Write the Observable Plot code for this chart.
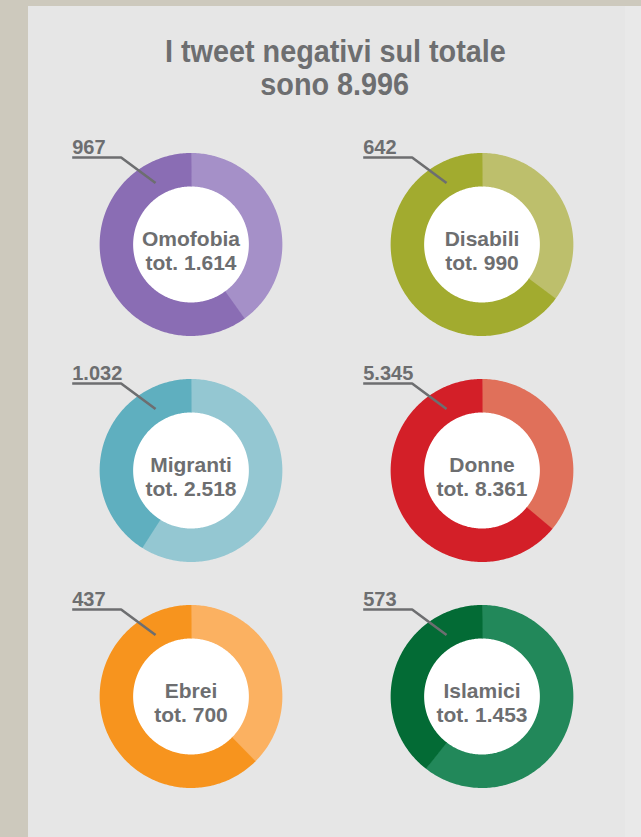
<!DOCTYPE html>
<html><head><meta charset="utf-8">
<script src="https://cdn.jsdelivr.net/npm/d3@7"></script>
<script src="https://cdn.jsdelivr.net/npm/@observablehq/plot@0.6"></script>
<style>
html,body{margin:0;padding:0;}
body{width:641px;height:837px;background:#cdc9bd;position:relative;overflow:hidden;font-family:"Liberation Sans",Arial,sans-serif;}
#panel{position:absolute;left:28px;top:6px;width:613px;height:831px;background:#e6e6e6;}
#strip{position:absolute;left:625px;top:6px;width:16px;height:831px;background:#e9e9e9;}
#title{position:absolute;left:135px;width:400px;top:35px;text-align:center;color:#6d6e70;font-weight:bold;font-size:32px;line-height:33px;}
#title span{display:inline-block;transform:scaleX(0.9);white-space:nowrap;}
#chart{position:absolute;left:0;top:110px;}
</style></head>
<body>
<div id="panel"></div>
<div id="strip"></div>
<div id="title"><span id="t1"></span><br><span id="t2"></span></div>
<div id="chart"></div>
<script>
// ---- data ----
const categories = ["Omofobia", "Disabili", "Migranti", "Donne", "Ebrei", "Islamici"];
const negativi   = [967, 642, 1032, 5345, 437, 573];
const totali     = [1614, 990, 2518, 8361, 700, 1453];
const titleLine1 = "I tweet negativi sul totale";
const titleLine2 = "sono";

// ---- styles ----
const darkColors  = ["#8a6db4", "#a2ab2f", "#5fafbf", "#d31f28", "#f7941e", "#036b35"];
const lightColors = ["#a590c8", "#bdbf6c", "#94c7d2", "#e0705a", "#fbb161", "#22885a"];
const textColor = "#6d6e70";

const it = d3.formatLocale({decimal: ",", thousands: ".", grouping: [3], currency: ["€", ""]});
const fmt = it.format(",d");

document.getElementById("t1").textContent = titleLine1;
document.getElementById("t2").textContent = titleLine2 + " " + fmt(d3.sum(negativi));

// geometry (px == data units)
const R_OUT = 91.5, R_IN = 58, R_MID = (R_OUT + R_IN) / 2, RING = R_OUT - R_IN;
const CELL_W = 291.5, CELL_H = 226;

const rows = categories.map((c, i) => ({cat: c, neg: negativi[i], tot: totali[i], col: i % 2, row: Math.floor(i / 2), i}));

const keys = [], colors = [];
const arcPts = [];
for (const d of rows) {
  const split = 360 * (1 - d.neg / d.tot);
  const segs = [["pos", 0, split, lightColors[d.i]], ["neg", split - 0.4, 360.4, darkColors[d.i]]];
  for (const [part, a0, a1, col] of segs) {
    const key = d.cat + "|" + part;
    keys.push(key); colors.push(col);
    const n = Math.max(2, Math.ceil(a1 - a0));
    for (let k = 0; k <= n; k++) {
      const a = (a0 + (a1 - a0) * k / n) * Math.PI / 180;
      arcPts.push({...d, key, x: R_MID * Math.sin(a), y: R_MID * Math.cos(a)});
    }
  }
}

// leader line: underline under the number, then diagonal into the ring
const LEAD_ANGLE = -30 * Math.PI / 180;
const leadEnd = [R_MID * 0.95 * Math.sin(LEAD_ANGLE), R_MID * 0.95 * Math.cos(LEAD_ANGLE)];
const leadPts = [];
for (const d of rows) {
  leadPts.push({...d, x: -119, y: 87});
  leadPts.push({...d, x: -70, y: 87});
  leadPts.push({...d, x: leadEnd[0], y: leadEnd[1]});
}

const chart = Plot.plot({
  width: 641,
  height: 727,
  marginLeft: 190 - CELL_W / 2,
  marginRight: 641 - (190 - CELL_W / 2) - 2 * CELL_W,
  marginTop: 134 - CELL_H / 2,
  marginBottom: 727 - (134 - CELL_H / 2) - 3 * CELL_H,
  fx: {domain: [0, 1], padding: 0, axis: null},
  fy: {domain: [0, 1, 2], padding: 0, axis: null},
  x: {domain: [-CELL_W / 2, CELL_W / 2], axis: null},
  y: {domain: [-CELL_H / 2, CELL_H / 2], axis: null},
  color: {domain: keys, range: colors},
  style: {background: "transparent", fontFamily: "'Liberation Sans', Arial, sans-serif"},
  marks: [
    Plot.dot(rows, {x: () => 0, y: () => 0, fx: "col", fy: "row", r: R_IN + 1, fill: "white", stroke: null}),
    Plot.line(arcPts, {x: "x", y: "y", z: "key", stroke: "key", strokeWidth: RING, strokeLinecap: "butt", strokeLinejoin: "round", fx: "col", fy: "row"}),
    Plot.line(leadPts, {x: "x", y: "y", z: "cat", stroke: textColor, strokeWidth: 2.6, strokeLinecap: "butt", fx: "col", fy: "row"}),
    Plot.text(rows, {x: () => -119, y: () => 90.5, text: d => fmt(d.neg), fx: "col", fy: "row", textAnchor: "start", lineAnchor: "bottom", fontSize: 20, fontWeight: "bold", fill: textColor}),
    Plot.text(rows, {x: () => 0, y: () => -25, text: d => d.cat + "\ntot. " + fmt(d.tot), fx: "col", fy: "row", textAnchor: "middle", lineAnchor: "bottom", fontSize: 21, lineHeight: 24 / 21, fontWeight: "bold", fill: textColor})
  ]
});
document.getElementById("chart").appendChild(chart);
</script>
</body></html>
